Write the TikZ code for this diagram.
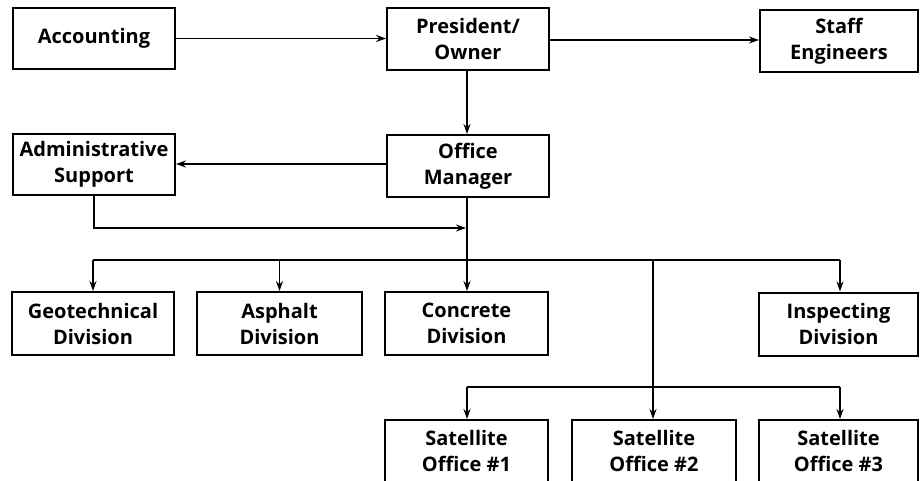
\documentclass[tikz,border=0pt]{standalone}
\usepackage{fontspec}
\setmainfont{Open Sans}
\usetikzlibrary{arrows.meta}
\begin{document}
\begin{tikzpicture}[x=1pt,y=-1pt,
  unit/.style={draw,line width=2pt,align=center,inner sep=0pt,
    font=\fontsize{20}{26}\selectfont\bfseries},
  link/.style={line width=1.8pt,-{Stealth[length=10pt,width=7pt]}},
  plain/.style={line width=1.8pt}]
\useasboundingbox (0,0) rectangle (920,481);
% top row
\node[unit,minimum width=162pt,minimum height=61pt] (acc) at (94,38.5) {Accounting};
\node[unit,minimum width=162pt,minimum height=62pt] (pres) at (468,39) {President/\\Owner};
\node[unit,minimum width=158pt,minimum height=62pt] (staff) at (839,41) {Staff\\Engineers};
% second row
\node[unit,minimum width=162pt,minimum height=61pt] (admin) at (94,164.5) {Administrative\\Support};
\node[unit,minimum width=162pt,minimum height=62pt] (om) at (468,166) {Office\\Manager};
% divisions
\node[unit,minimum width=162pt,minimum height=63pt] (geo) at (93,323.5) {Geotechnical\\Division};
\node[unit,minimum width=165pt,minimum height=63pt] (asph) at (279.5,323.5) {Asphalt\\Division};
\node[unit,minimum width=163pt,minimum height=63pt] (conc) at (466.5,323.5) {Concrete\\Division};
\node[unit,minimum width=159pt,minimum height=63pt] (insp) at (838.5,324) {Inspecting\\Division};
% satellite offices
\node[unit,minimum width=163pt,minimum height=62pt] (sat1) at (466.5,451) {Satellite\\Office \#1};
\node[unit,minimum width=164pt,minimum height=62pt] (sat2) at (654,451) {Satellite\\Office \#2};
\node[unit,minimum width=159pt,minimum height=62pt] (sat3) at (838.5,451) {Satellite\\Office \#3};
% bus and junction points
\coordinate (busL) at (93,260);
\coordinate (busR) at (840,260);
\coordinate (busS) at (653,260);
\coordinate (adminEnd) at (466,228);
\coordinate (bus2L) at (467,387);
\coordinate (bus2R) at (840,387);
% connectors
\draw[link] (acc.east) -- (pres.west |- acc.east);
\draw[link] (pres.east |- 0,40) -- (staff.west |- 0,40);
\draw[link] (pres.south -| 467,0) -- (om.north -| 467,0);
\draw[link] (om.west |- 0,164) -- (admin.east |- 0,164);
\draw[link] (admin.south) |- (adminEnd);
\draw[link] (om.south -| 467,0) -- (conc.north -| 467,0);
\draw[plain] (busL) -- (busR);
\draw[link] (busL) -- (geo.north -| busL);
\draw[link] (asph.north |- busL) -- (asph.north);
\draw[link] (busR) -- (insp.north -| busR);
\draw[link] (busS) -- (sat2.north -| busS);
\draw[plain] (bus2L) -- (bus2R);
\draw[link] (bus2L) -- (sat1.north -| bus2L);
\draw[link] (bus2R) -- (sat3.north -| bus2R);
\end{tikzpicture}
\end{document}
